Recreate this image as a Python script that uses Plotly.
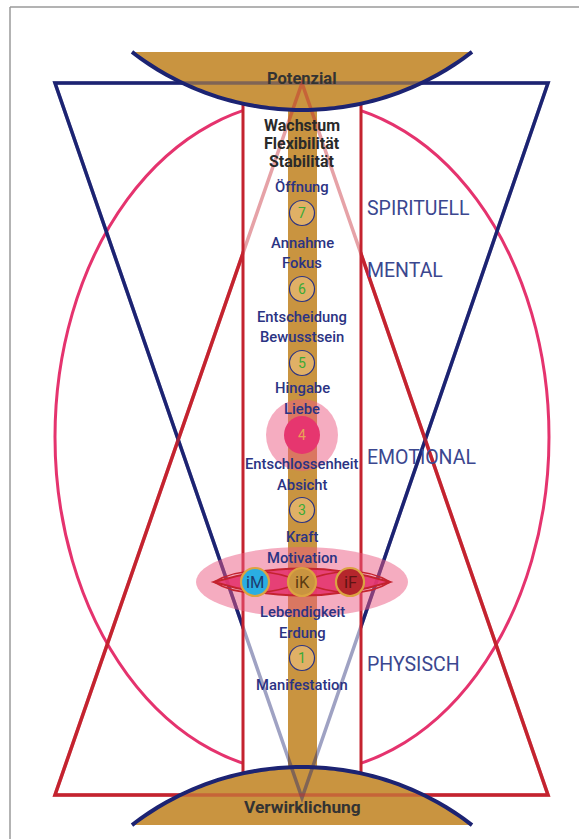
import numpy as np
import plotly.graph_objects as go

# ---------------- data ----------------
CX = 302
bold_labels = ["Wachstum", "Flexibilität", "Stabilität"]
bold_label_y = [125, 143, 161]

quality_labels = ["Öffnung", "Annahme", "Fokus", "Entscheidung", "Bewusstsein",
                  "Hingabe", "Liebe", "Entschlossenheit", "Absicht", "Kraft",
                  "Motivation", "Lebendigkeit", "Erdung", "Manifestation"]
quality_label_y = [187, 243, 263, 317, 337, 388, 409, 464, 485, 537, 558, 612, 633, 685]

chakra_numbers = ["7", "6", "5", "3", "1"]
chakra_number_y = [213, 289, 363, 510, 658]

heart_number = "4"
heart_y = 435

level_labels = ["SPIRITUELL", "MENTAL", "EMOTIONAL", "PHYSISCH"]
level_label_y = [208, 270, 457, 664]

center_points = ["iM", "iK", "iF"]
center_point_x = [255, 302, 350]
center_point_y = 582
center_point_fill = ["#2aaee2", "#c99440", "#b5262c"]
center_point_text = ["#1d3b6e", "#5b3b12", "#5e1414"]

top_word = "Potenzial"
top_word_y = 78
bottom_word = "Verwirklichung"
bottom_word_y = 807

# ---------------- styles ----------------
GOLD = "#c99440"
NAVY = "#1c2372"
RED = "#c4232f"
PINK = "#e5336e"
TXT = "#2b3383"
LVL = "#3b478f"
FONT = "Roboto, Lato, sans-serif"

shapes = []


def add(**kw):
    kw.setdefault("xref", "x")
    kw.setdefault("yref", "y")
    kw.setdefault("layer", "above")
    shapes.append(kw)


def path_from(xs, ys, close=False):
    s = "M " + " L ".join(f"{x:.2f},{y:.2f}" for x, y in zip(xs, ys))
    return s + (" Z" if close else "")


# frame
add(type="line", x0=10, y0=7, x1=10, y1=839, line=dict(color="#9a9a9a", width=1.5))
add(type="line", x0=10, y0=7, x1=579, y1=7, line=dict(color="#9a9a9a", width=1.5))

# big ellipse
add(type="circle", x0=55, x1=549, y0=101, y1=773, line=dict(color=PINK, width=3))

# triangles
nav_tri = "M 55,83 L 548,83 L 302,798 Z"
red_tri = "M 55,795 L 548,795 L 302,83 Z"
add(type="path", path=nav_tri, line=dict(color=NAVY, width=3.5))
add(type="path", path=red_tri, line=dict(color=RED, width=3.5))

# rectangle interior + column
add(type="rect", x0=244, x1=360, y0=95, y1=785, fillcolor="white", line=dict(width=0))
add(type="rect", x0=288, x1=317, y0=90, y1=790, fillcolor=GOLD, line=dict(width=0))

# bowls
R = 278
xs = np.linspace(132, 472, 80)
top_arc_y = -168 + np.sqrt(R**2 - (xs - CX) ** 2)
bot_arc_y = 1045 - np.sqrt(R**2 - (xs - CX) ** 2)
add(type="path", path=path_from(xs, top_arc_y, close=True), fillcolor=GOLD, line=dict(width=0))
add(type="path", path=path_from(list(xs) + [472, 132], list(bot_arc_y) + [825, 825], close=True),
    fillcolor=GOLD, line=dict(width=0))

# faded lines through rectangle and bowls
add(type="path", path=nav_tri, line=dict(color=NAVY, width=3.5), opacity=0.42)
add(type="path", path=red_tri, line=dict(color=RED, width=3.5), opacity=0.42)

# rectangle sides
for xv in (243, 361):
    ty = -168 + np.sqrt(R**2 - (xv - CX) ** 2)
    by = 1045 - np.sqrt(R**2 - (xv - CX) ** 2)
    add(type="line", x0=xv, x1=xv, y0=ty, y1=by, line=dict(color=RED, width=3))

# navy arcs
add(type="path", path=path_from(xs, top_arc_y), line=dict(color=NAVY, width=4))
add(type="path", path=path_from(xs, bot_arc_y), line=dict(color=NAVY, width=4))

# heart circle
add(type="circle", x0=CX - 36, x1=CX + 36, y0=heart_y - 36, y1=heart_y + 36,
    fillcolor="rgba(236,90,130,0.5)", line=dict(width=0))
add(type="circle", x0=CX - 18, x1=CX + 18, y0=heart_y - 19, y1=heart_y + 19,
    fillcolor="#e6366f", line=dict(width=0))

# centre ellipse + lens
add(type="circle", x0=CX - 106, x1=CX + 106, y0=center_point_y - 35, y1=center_point_y + 35,
    fillcolor="rgba(236,90,130,0.5)", line=dict(width=0))
add(type="path",
    path=f"M 214,{center_point_y} Q {CX},{center_point_y-27} 390,{center_point_y} "
         f"Q {CX},{center_point_y+27} 214,{center_point_y} Z",
    fillcolor="rgba(228,52,110,0.9)", line=dict(color="#c4232f", width=2))
add(type="path",
    path=f"M 214,{center_point_y} C 240,{center_point_y-16} 275,{center_point_y-12} {CX},{center_point_y} "
         f"C 330,{center_point_y+12} 365,{center_point_y+16} 390,{center_point_y}",
    line=dict(color="#c4232f", width=1.6))
add(type="path",
    path=f"M 214,{center_point_y} C 240,{center_point_y+16} 275,{center_point_y+12} {CX},{center_point_y} "
         f"C 330,{center_point_y-12} 365,{center_point_y-16} 390,{center_point_y}",
    line=dict(color="#c4232f", width=1.6))
for x, f in zip(center_point_x, center_point_fill):
    add(type="circle", x0=x - 14, x1=x + 14, y0=center_point_y - 14, y1=center_point_y + 14,
        fillcolor=f, line=dict(color="#dba341", width=2.2))

# numbered circles
for y in chakra_number_y:
    add(type="circle", x0=CX - 12.5, x1=CX + 12.5, y0=y - 12.5, y1=y + 12.5,
        fillcolor="#e0b066", line=dict(color=TXT, width=1.2))

# ---------------- text ----------------
ann = []


def text(t, x, y, size, color, weight=400, xanchor="center"):
    ann.append(dict(text=t, x=x, y=y, xref="x", yref="y", showarrow=False,
                    xanchor=xanchor, yanchor="middle", borderpad=0,
                    font=dict(family=FONT, size=size, color=color, weight=weight)))


text(top_word, CX, top_word_y, 16.5, "#333333", weight=700)
text(bottom_word, CX, bottom_word_y, 17.3, "#333333", weight=700)
for t, y in zip(bold_labels, bold_label_y):
    text(t, CX, y, 16, "#2a2a2a", weight=700)
for t, y in zip(quality_labels, quality_label_y):
    text(t, CX, y, 14.8, TXT, weight=500)
for t, y in zip(chakra_numbers, chakra_number_y):
    text(t, CX, y, 14, "#3aaa35")
text(heart_number, CX, heart_y, 14, "#e9a257")
for t, x, c in zip(center_points, center_point_x, center_point_text):
    text(t, x, center_point_y, 16.5, c)
for t, y in zip(level_labels, level_label_y):
    text(t, 366, y, 19.5, LVL, xanchor="left")

fig = go.Figure(go.Scatter(x=[], y=[]))
fig.update_layout(
    width=579, height=839, autosize=False,
    margin=dict(l=0, r=0, t=0, b=0),
    paper_bgcolor="white", plot_bgcolor="white",
    xaxis=dict(range=[0, 579], visible=False, fixedrange=True),
    yaxis=dict(range=[839, 0], visible=False, fixedrange=True),
    shapes=shapes, annotations=ann, showlegend=False,
)
fig.write_html("out.html", config=dict(displayModeBar=False),
               post_script="document.body.style.margin='0';document.body.style.overflow='hidden';")
